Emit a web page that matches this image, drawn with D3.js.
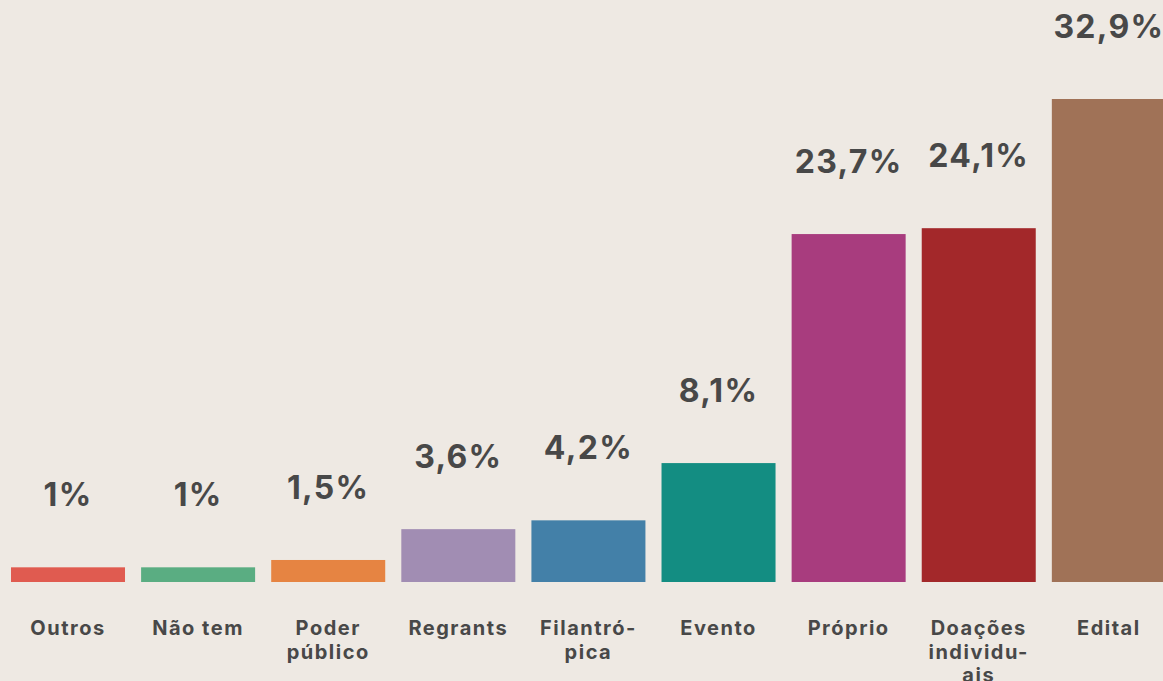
<!DOCTYPE html>
<html>
<head>
<meta charset="utf-8">
<script src="https://cdn.jsdelivr.net/npm/d3@7"></script>
<style>
  html, body { margin: 0; padding: 0; background: #EEE9E3; }
  svg { display: block; }
  text { font-family: Inter, "Open Sans", sans-serif; font-weight: 700; fill: #484848; }
</style>
</head>
<body>
<svg id="chart" width="1163" height="681"></svg>
<script>
const categories = ["Outros", "Não tem", "Poder público", "Regrants", "Filantrópica", "Evento", "Próprio", "Doações individuais", "Edital"];
const categoryLines = [["Outros"], ["Não tem"], ["Poder", "público"], ["Regrants"], ["Filantró-", "pica"], ["Evento"], ["Próprio"], ["Doações", "individu-", "ais"], ["Edital"]];
const values = [1, 1, 1.5, 3.6, 4.2, 8.1, 23.7, 24.1, 32.9];
const valueLabels = ["1%", "1%", "1,5%", "3,6%", "4,2%", "8,1%", "23,7%", "24,1%", "32,9%"];
const colors = ["#E05B50", "#5AAD82", "#E68442", "#A18DB3", "#4380A8", "#138D82", "#A83C7E", "#A3282A", "#A07257"];

const W = 1163, H = 681;
const svg = d3.select("#chart");

const x = d3.scaleBand()
  .domain(categories)
  .range([2.95, 1173.9])
  .paddingInner(0.1237)
  .paddingOuter(0.06185);

const y = d3.scaleLinear()
  .domain([0, 32.9])
  .range([582, 99]);

const g = svg.append("g");

g.selectAll("rect.bar")
  .data(categories)
  .join("rect")
  .attr("class", "bar")
  .attr("x", d => x(d))
  .attr("y", (d, i) => y(values[i]))
  .attr("width", x.bandwidth())
  .attr("height", (d, i) => y(0) - y(values[i]))
  .attr("fill", (d, i) => colors[i]);

g.selectAll("text.val")
  .data(categories)
  .join("text")
  .attr("class", "val")
  .attr("x", d => x(d) + x.bandwidth() / 2)
  .attr("y", (d, i) => y(values[i]) - 61)
  .attr("text-anchor", "middle")
  .style("font-size", "32px")
  .style("letter-spacing", "1.3px")
  .text((d, i) => valueLabels[i]);

const cat = g.selectAll("text.cat")
  .data(categories)
  .join("text")
  .attr("class", "cat")
  .attr("x", d => x(d) + x.bandwidth() / 2)
  .attr("y", 635)
  .attr("text-anchor", "middle")
  .style("font-size", "20px")
  .style("letter-spacing", "1.5px");

cat.selectAll("tspan")
  .data((d, i) => categoryLines[i].map(t => ({ t, cx: x(d) + x.bandwidth() / 2 })))
  .join("tspan")
  .attr("x", d => d.cx)
  .attr("dy", (d, j) => j === 0 ? 0 : 23.5)
  .text(d => d.t);
</script>
</body>
</html>
